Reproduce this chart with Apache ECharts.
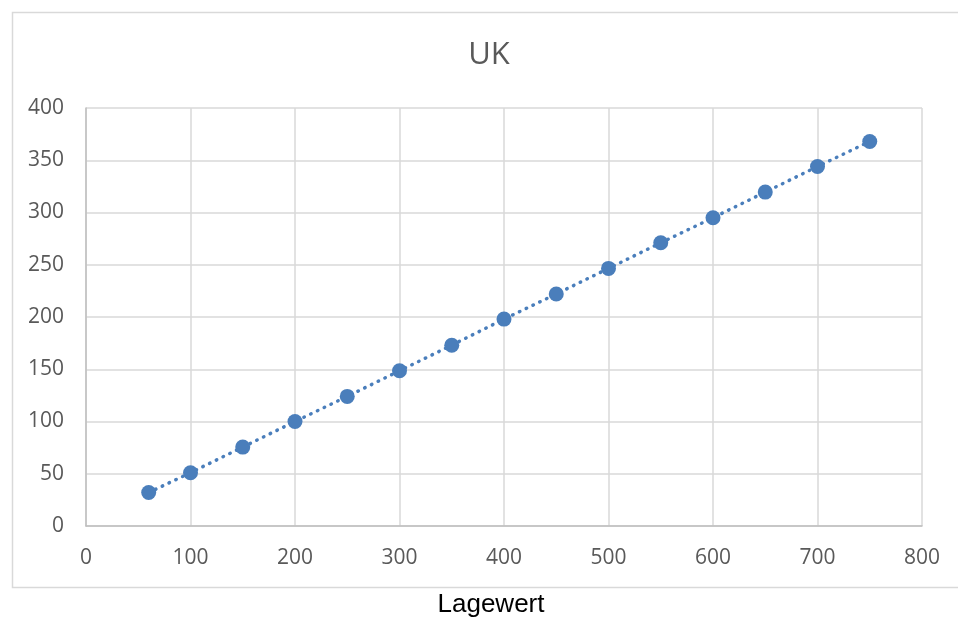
<!DOCTYPE html>
<html>
<head>
<meta charset="utf-8">
<script src="https://cdn.jsdelivr.net/npm/echarts@6/dist/echarts.min.js"></script>
<style>html,body{margin:0;padding:0;background:#fff;}#c{width:958px;height:618px;}</style>
</head>
<body>
<div id="c"></div>
<script>
const titleText = 'UK';
const xName = 'Lagewert';
const xValues = [60, 100, 150, 200, 250, 300, 350, 400, 450, 500, 550, 600, 650, 700, 750];
const yValues = [32, 51, 75.5, 100, 124, 148.5, 173, 198, 222, 246.5, 271, 295, 319.5, 344, 368];

const pts = xValues.map((x, i) => [x, yValues[i]]);
const chart = echarts.init(document.getElementById('c'), null, {renderer: 'canvas'});
const tickFont = {color: '#595959', fontSize: 21, fontFamily: 'Open Sans'};
chart.setOption({
  animation: false,
  backgroundColor: '#ffffff',
  graphic: [{
    type: 'rect', left: 10, top: 10, silent: true,
    shape: {x: 0, y: 0, width: 970, height: 575},
    style: {fill: 'none', stroke: '#d9d9d9', lineWidth: 1.5}
  }],
  title: [{
    text: titleText, left: 484, top: 35, textAlign: 'center',
    textStyle: {color: '#595959', fontSize: 31, fontWeight: 'normal', fontFamily: 'Open Sans'}
  }, {
    text: xName, left: 486, top: 587, textAlign: 'center',
    textStyle: {color: '#000', fontSize: 26, fontWeight: 'normal', fontFamily: 'Liberation Sans'}
  }],
  grid: {left: 86, right: 36, top: 108, bottom: 92, containLabel: false},
  xAxis: {
    type: 'value', min: 0, max: 800, interval: 100,
    axisLine: {show: true, lineStyle: {color: '#bfbfbf', width: 1.5}},
    axisTick: {show: false},
    axisLabel: Object.assign({margin: 22}, tickFont),
    splitLine: {show: true, lineStyle: {color: '#d9d9d9', width: 1.5}}
  },
  yAxis: {
    type: 'value', min: 0, max: 400, interval: 50,
    axisLine: {show: true, lineStyle: {color: '#bfbfbf', width: 1.5}},
    axisTick: {show: false},
    axisLabel: Object.assign({margin: 22}, tickFont),
    splitLine: {show: true, lineStyle: {color: '#d9d9d9', width: 1.5}}
  },
  series: [{
    type: 'line', data: pts, symbol: 'circle', symbolSize: 15,
    itemStyle: {color: '#4a7ebb'},
    lineStyle: {color: '#4a7ebb', width: 3.5, type: [0.5, 7], cap: 'round'}
  }]
});
</script>
</body>
</html>
